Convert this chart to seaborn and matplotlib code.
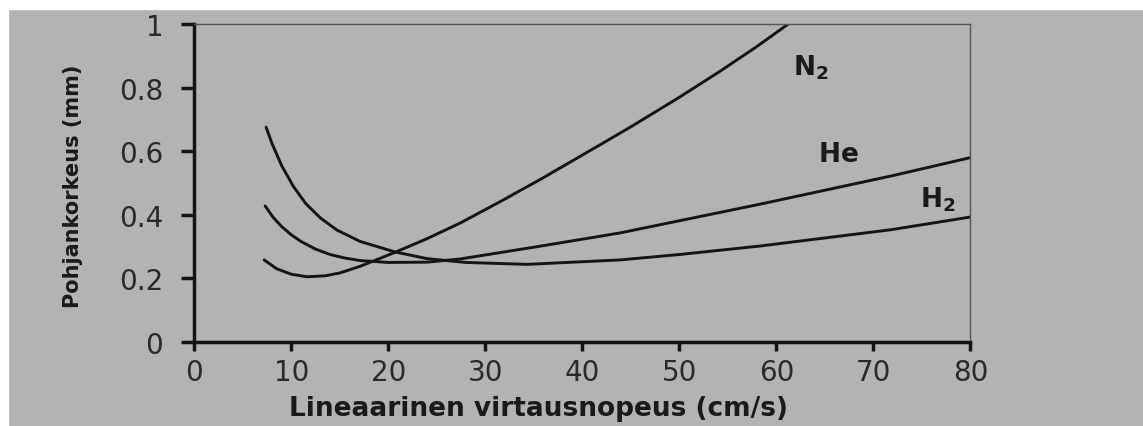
import matplotlib
matplotlib.use("Agg")
import matplotlib.pyplot as plt
import seaborn as sns
import pandas as pd
from matplotlib.ticker import FuncFormatter
from matplotlib.patches import Rectangle

# ---- data ----
n2_x = [7.2, 8.5, 10.0, 11.6, 13.5, 15.0, 17.1, 20.7, 24.0, 27.4, 31.5, 35.7, 40.0, 45.0, 50.0, 54.2, 58.0, 61.2]
n2_y = [0.258, 0.230, 0.213, 0.205, 0.208, 0.217, 0.238, 0.282, 0.325, 0.374, 0.441, 0.512, 0.588, 0.677, 0.770, 0.852, 0.930, 1.000]

he_x = [7.3, 8.1, 9.0, 10.0, 11.0, 12.5, 14.0, 15.5, 17.1, 20.0, 24.0, 27.4, 35.0, 43.9, 58.4, 71.8, 80.0]
he_y = [0.428, 0.393, 0.363, 0.337, 0.316, 0.292, 0.275, 0.264, 0.256, 0.250, 0.251, 0.261, 0.298, 0.343, 0.434, 0.522, 0.580]

h2_x = [7.4, 8.0, 9.0, 10.2, 11.5, 13.0, 14.7, 17.1, 20.7, 24.0, 28.0, 34.3, 43.9, 50.0, 58.4, 71.8, 80.0]
h2_y = [0.676, 0.625, 0.555, 0.490, 0.435, 0.390, 0.352, 0.316, 0.283, 0.262, 0.250, 0.244, 0.258, 0.275, 0.302, 0.353, 0.393]

gas_labels = [r"$\mathbf{N_2}$", r"$\mathbf{He}$", r"$\mathbf{H_2}$"]
label_x = [63.5, 66.4, 76.6]
label_y = [0.865, 0.59, 0.45]

x_ticks = [0, 10, 20, 30, 40, 50, 60, 70, 80]
y_ticks = [0, 0.2, 0.4, 0.6, 0.8, 1.0]

x_title = "Lineaarinen virtausnopeus (cm/s)"
y_title = "Pohjankorkeus (mm)"

# ---- style ----
sns.set_theme(style="ticks")
plt.rcParams["font.family"] = ["DejaVu Sans"]
plt.rcParams["mathtext.fontset"] = "custom"
plt.rcParams["mathtext.bf"] = "DejaVu Sans:bold"
plt.rcParams["mathtext.rm"] = "DejaVu Sans"

bg = "#b3b3b3"
ink = "#141414"

fig = plt.figure(figsize=(11.43, 4.27), dpi=100, facecolor=bg)
ax = fig.add_axes([0.170, 0.197, 0.679, 0.744])
ax.set_facecolor(bg)

# white photo borders
fig.add_artist(Rectangle((0, 0.976), 1, 0.03, transform=fig.transFigure, color="white", zorder=-1))
fig.add_artist(Rectangle((0, 0), 0.007, 1, transform=fig.transFigure, color="white", zorder=-1))

df = pd.concat([
    pd.DataFrame({"x": n2_x, "y": n2_y, "gas": "N2"}),
    pd.DataFrame({"x": he_x, "y": he_y, "gas": "He"}),
    pd.DataFrame({"x": h2_x, "y": h2_y, "gas": "H2"}),
])
for g in ["N2", "He", "H2"]:
    sub = df[df["gas"] == g]
    sns.lineplot(data=sub, x="x", y="y", ax=ax, color=ink, linewidth=2.1,
                 sort=False, estimator=None, legend=False)

for t, lx, ly in zip(gas_labels, label_x, label_y):
    ax.text(lx, ly, t, fontsize=19, color="#1a1a1a", ha="center", va="center")

ax.set_xlim(0, 80)
ax.set_ylim(0, 1)
ax.set_xticks(x_ticks)
ax.set_yticks(y_ticks)
ax.yaxis.set_major_formatter(FuncFormatter(lambda v, p: ("%g" % v)))
ax.tick_params(axis="both", labelsize=20, labelcolor="#2a2a2a", color=ink,
               width=2.5, direction="out")
ax.tick_params(axis="x", length=6.5, pad=5)
ax.tick_params(axis="y", length=9.4, pad=13)

for s in ["left", "bottom"]:
    ax.spines[s].set_linewidth(2.5)
    ax.spines[s].set_color(ink)
for s in ["top", "right"]:
    ax.spines[s].set_visible(True)
    ax.spines[s].set_linewidth(1.0)
    ax.spines[s].set_color("#555555")

ax.set_xlabel(x_title, fontsize=19, fontweight="bold", color="#1a1a1a")
ax.set_ylabel(y_title, fontsize=15, fontweight="bold", color="#1a1a1a")
ax.xaxis.set_label_coords(0.443, -0.168)
ax.yaxis.set_label_coords(-0.144, 0.494)

fig.savefig("out.png", dpi=100, facecolor=bg)
